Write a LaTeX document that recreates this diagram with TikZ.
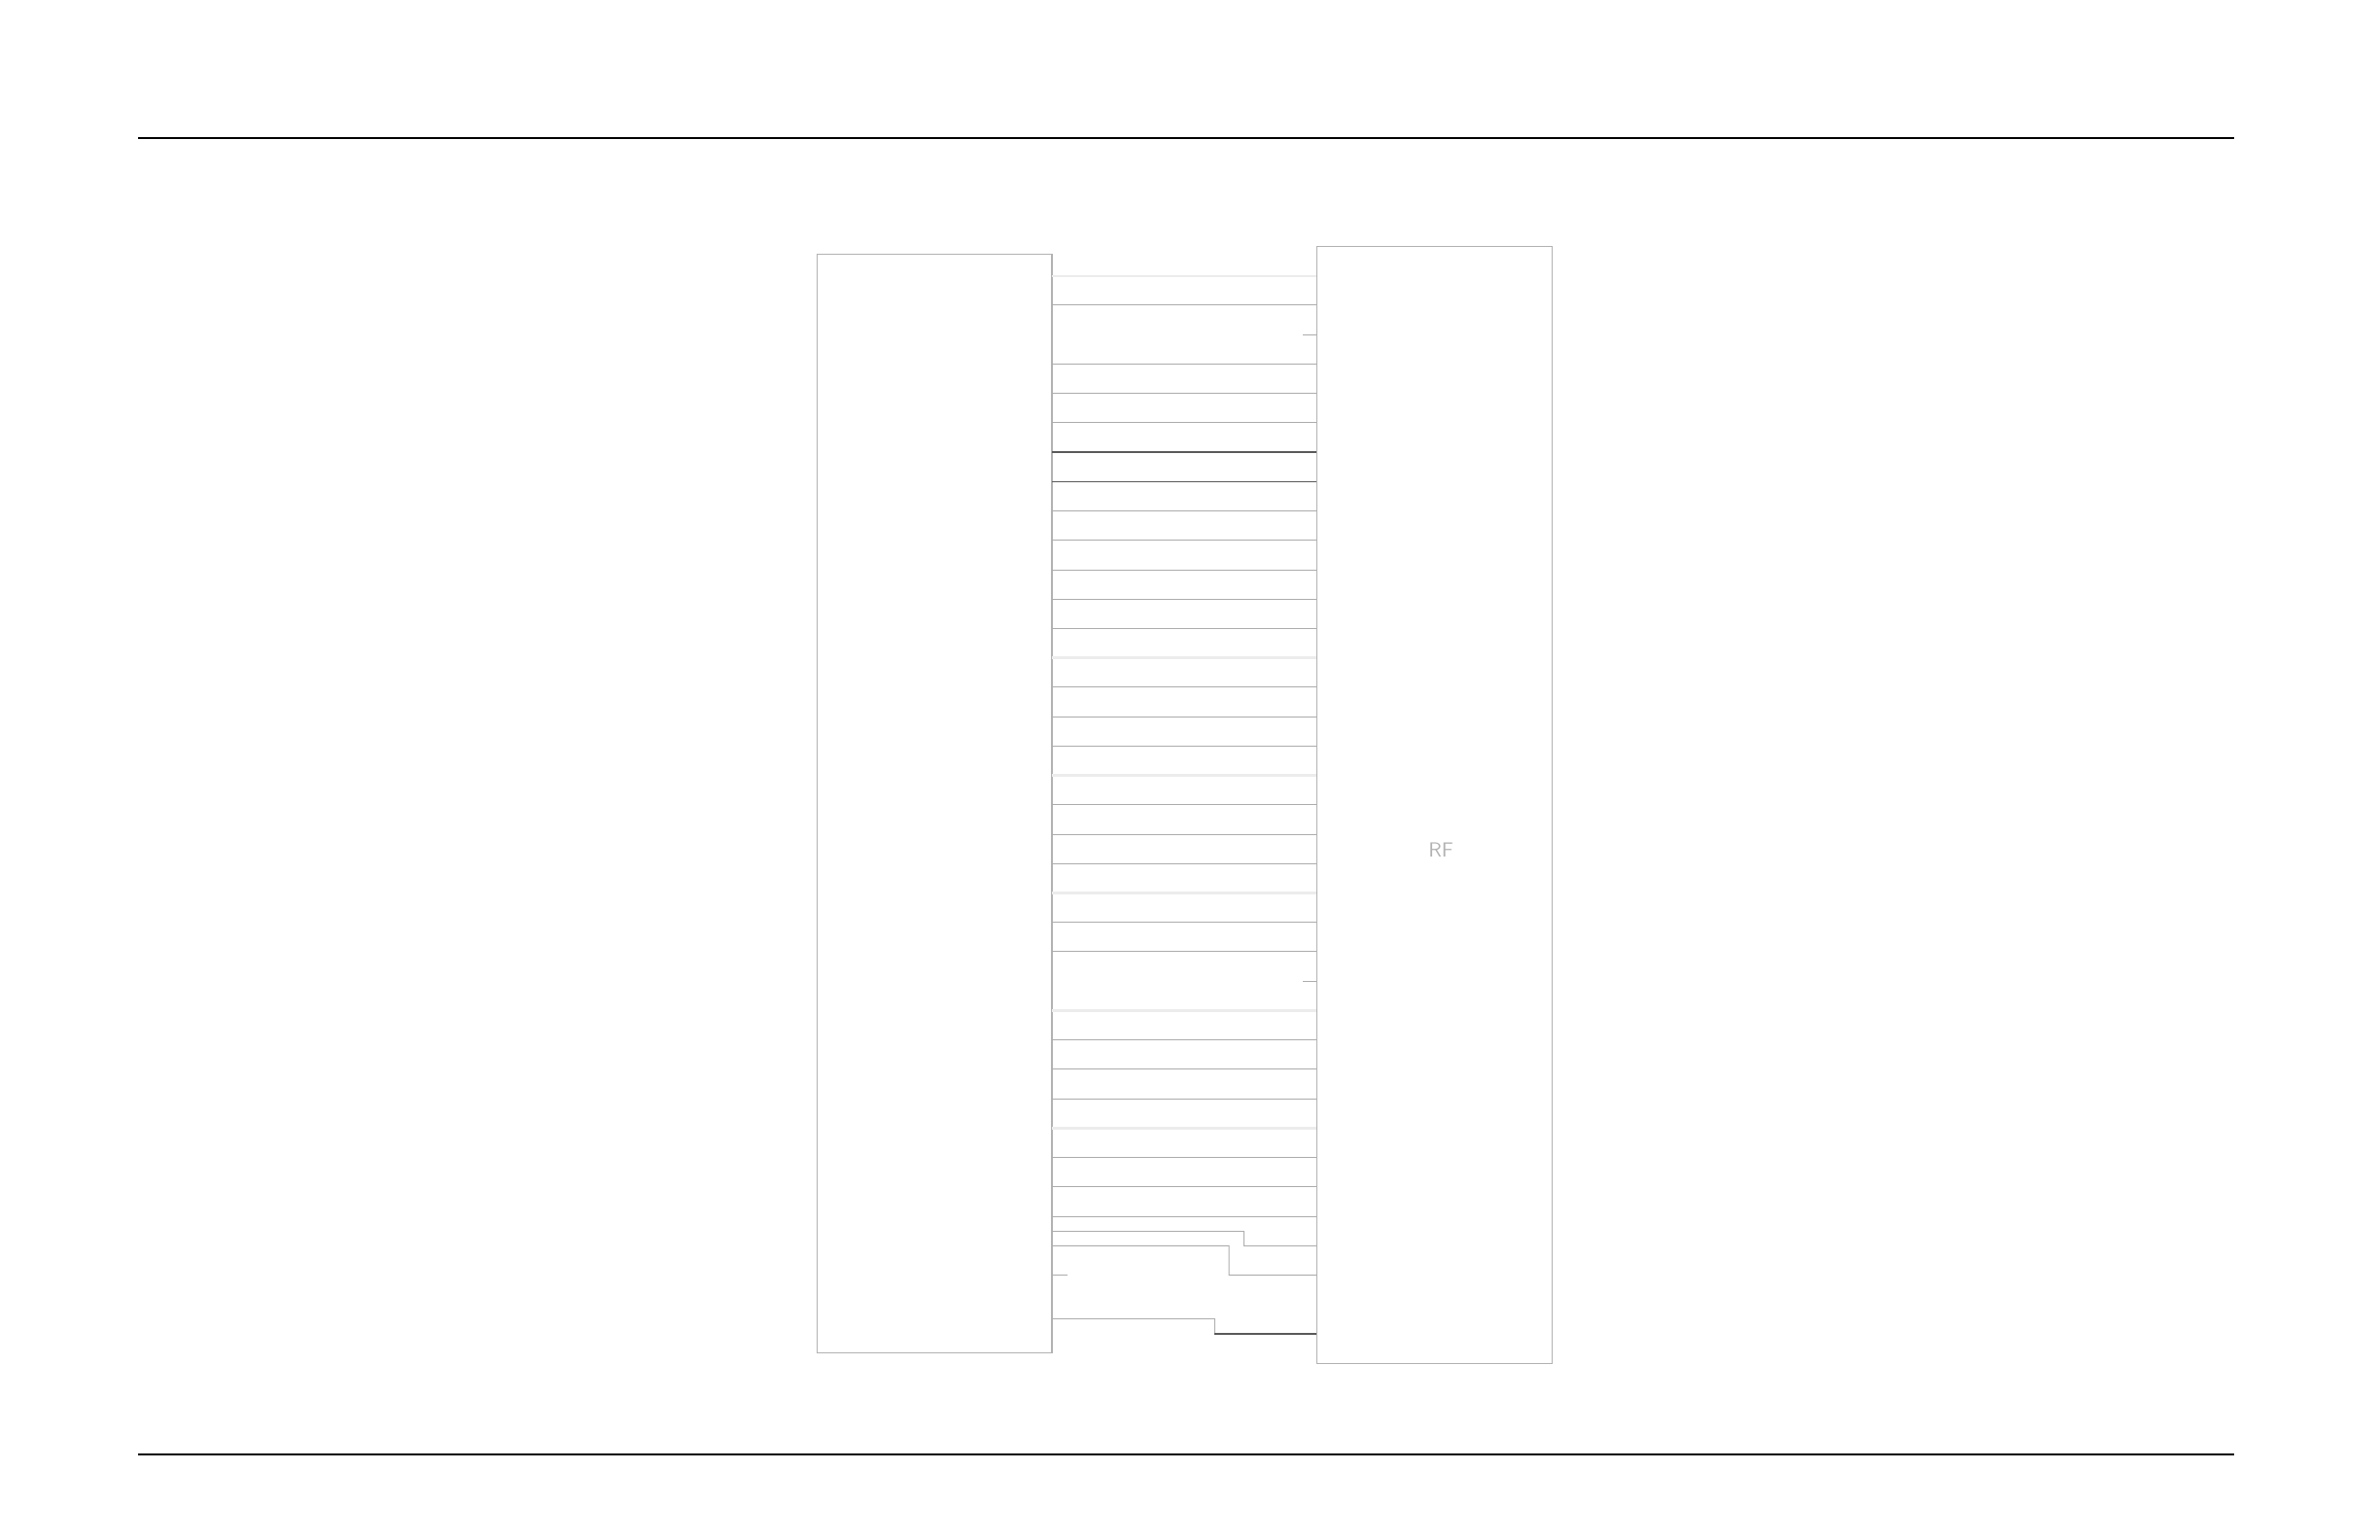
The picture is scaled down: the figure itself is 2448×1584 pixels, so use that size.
\documentclass[tikz,border=0pt]{standalone}
\usetikzlibrary{positioning}
\begin{document}
\begin{tikzpicture}[x=0.5pt, y=-0.5pt,
    every node/.style = {inner sep=0pt, outer sep=0pt},
    box/.style = {draw=gray!60, line width=0.6pt, rectangle},
    wire/.style = {draw=gray!65, line width=0.5pt},
    faintwire/.style = {draw=gray!15, line width=1.2pt},
    darkwire/.style = {draw=black!65, line width=0.6pt},
    rule/.style = {draw=black, line width=1pt}
    ]
    \useasboundingbox (0,0) rectangle (2448,1584);
    % page rules
    \draw[rule] (142,141.7) -- (2298,141.7);
    \draw[rule] (142,1496) -- (2298,1496);

    % the two blocks
    \node[box, minimum width=120.75pt, minimum height=565.2pt] (mcu) at (961.25,826.5) {};
    \node[box, minimum width=121.05pt, minimum height=574.5pt] (rf) at (1475.35,827.8) {};
    \node[text=gray!60, font=\sffamily\fontsize{10.5}{12}\selectfont] (rflabel) at (1482,874.5) {RF};

    % pin rows
    \foreach \k in {0,...,36} {
      \pgfmathsetmacro{\ypin}{283.7+30.23*\k}
      \coordinate (l\k) at (1082,\ypin);
      \coordinate (r\k) at (1354.3,\ypin);
    }
    \coordinate (lA) at (1082,1266.2);
    \coordinate (lC) at (1082,1356.9);
    \coordinate (jA) at (1279,1266.2);
    \coordinate (jB) at (1264,1281.3);
    \coordinate (jC) at (1249,1356.9);

    \foreach \k in {1,3,4,5,8,9,10,11,12,14,15,16,18,19,20,22,23,26,27,28,30,31,32}
      \draw[wire] (l\k) -- (r\k);
    \foreach \k in {0,13,17,21,25,29}
      \draw[faintwire] (l\k) -- (r\k);
    \foreach \k in {6,7}
      \draw[darkwire] (l\k) -- (r\k);

    % short stubs
    \draw[wire] (r2) -- ++(-14.3,0);
    \draw[wire] (r24) -- ++(-14.3,0);
    \draw[wire] (l34) -- ++(16,0);

    % jogged rows
    \draw[wire] (lA) -- (jA) |- (r33);
    \draw[wire] (l33) -- (jB) |- (r34);
    \draw[wire] (lC) -- (jC) -- (jC |- r36);
    \draw[darkwire] (jC |- r36) -- (r36);
\end{tikzpicture}
\end{document}
